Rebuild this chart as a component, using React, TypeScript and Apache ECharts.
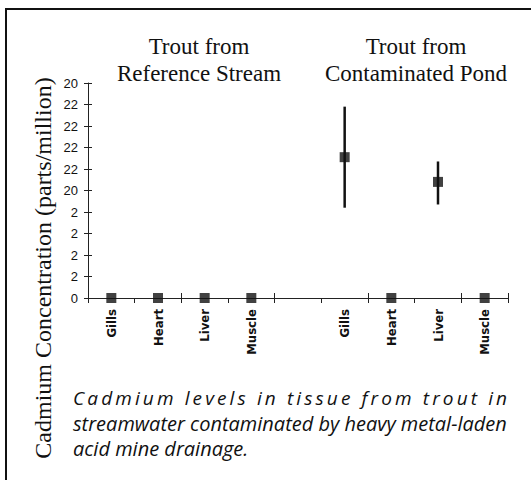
import React, { useEffect, useRef } from "react";
import * as echarts from "echarts";

const categories = ["Gills", "Heart", "Liver", "Muscle", "", "Gills", "Heart", "Liver", "Muscle"];
const meanValues: (number | null)[] = [0, 0, 0, 0, null, 13.1, 0, 10.8, 0];
const lowValues: (number | null)[] = [null, null, null, null, null, 8.4, null, 8.7, null];
const highValues: (number | null)[] = [null, null, null, null, null, 17.8, null, 12.7, null];
const yTickLabels = ["0", "2", "2", "2", "2", "20", "22", "22", "22", "22", "20"];
const groupTitles = [
  ["Trout from", "Reference Stream"],
  ["Trout from", "Contaminated Pond"],
];
const yAxisTitle = "Cadmium Concentration (parts/million)";
const captionLine1Words = ["Cadmium", "levels", "in", "tissue", "from", "trout", "in"];
const captionLine2 = "streamwater contaminated by heavy metal-laden";
const captionLine3 = "acid mine drainage.";

const serif = "'Liberation Serif', 'Times New Roman', serif";
const captionFont = "'Open Sans', 'DejaVu Sans', sans-serif";

export default function App() {
  const ref = useRef<HTMLDivElement>(null);
  useEffect(() => {
    document.body.style.margin = "0";
    if (!ref.current) return;
    const chart = echarts.init(ref.current, null, { renderer: "svg" });
    const errData = categories
      .map((_, i) => [i, lowValues[i], highValues[i]])
      .filter((d) => d[1] != null);
    const graphics: any[] = [
      {
        type: "rect",
        shape: { x: 6, y: 9, width: 540, height: 490 },
        style: { fill: "none", stroke: "#111", lineWidth: 2 },
        silent: true,
      },
      {
        type: "text",
        x: 43,
        y: 268,
        rotation: Math.PI / 2,
        style: {
          text: yAxisTitle,
          font: `24px ${serif}`,
          fill: "#111",
          align: "center",
          verticalAlign: "middle",
        },
      },
    ];
    const titleCenters = [199, 416];
    groupTitles.forEach((lines, gi) => {
      lines.forEach((t, li) => {
        graphics.push({
          type: "text",
          x: titleCenters[gi],
          y: 46 + li * 27,
          style: {
            text: t,
            font: `23px ${serif}`,
            fill: "#111",
            align: "center",
            verticalAlign: "middle",
          },
        });
      });
    });
    // caption line 1 is letter-spaced to the full caption width
    const capLeft = 73;
    const capRight = 507;
    const line1Font = `italic 19px ${captionFont}`;
    const canvas = document.createElement("canvas");
    const ctx = canvas.getContext("2d");
    if (ctx) ctx.font = line1Font;
    const measure = (s: string) => (ctx ? ctx.measureText(s).width : s.length * 9);
    const spaceW = measure(" ");
    const charW = captionLine1Words.map((w) => w.split("").map((c) => measure(c)));
    const natural =
      charW.reduce((a, ws) => a + ws.reduce((p, q) => p + q, 0), 0) +
      spaceW * (captionLine1Words.length - 1);
    const nGaps =
      captionLine1Words.reduce((a, w) => a + w.length, 0) + (captionLine1Words.length - 1) - 1;
    const extra = (capRight - capLeft - natural) / nGaps;
    let cx = capLeft;
    captionLine1Words.forEach((w, wi) => {
      w.split("").forEach((c, k) => {
        graphics.push({
          type: "text",
          x: cx,
          y: 388,
          style: {
            text: c,
            font: line1Font,
            fill: "#111",
            align: "left",
            verticalAlign: "alphabetic",
          },
        });
        cx += charW[wi][k] + extra;
      });
      cx += spaceW + extra;
    });
    [captionLine2, captionLine3].forEach((t, i) => {
      graphics.push({
        type: "text",
        x: capLeft,
        y: 413 + i * 25,
        style: {
          text: t,
          font: `italic 20px ${captionFont}`,
          fill: "#111",
          align: "left",
          verticalAlign: "alphabetic",
        },
      });
    });

    chart.setOption({
      animation: false,
      backgroundColor: "#fff",
      grid: { left: 88, right: 23, top: 83, bottom: 182, containLabel: false },
      xAxis: [
        {
          type: "category",
          data: categories,
          boundaryGap: true,
          axisLine: { show: true, lineStyle: { color: "#222", width: 1 } },
          axisTick: { show: true, length: 5, lineStyle: { color: "#222" } },
          axisLabel: {
            rotate: 90,
            interval: 0,
            margin: 11,
            color: "#111",
            fontSize: 13,
            fontWeight: "bold",
            fontFamily: "'Liberation Sans Narrow', 'DejaVu Sans Condensed', sans-serif",
          },
        },
        {
          type: "category",
          data: categories,
          position: "bottom",
          boundaryGap: true,
          axisLine: { show: false },
          axisTick: { show: true, inside: true, length: 5, lineStyle: { color: "#222" } },
          axisLabel: { show: false },
        },
      ],
      yAxis: [
        {
          type: "value",
          min: 0,
          max: 20,
          interval: 2,
          axisLine: { show: true, lineStyle: { color: "#222", width: 1 } },
          axisTick: { show: true, length: 4, lineStyle: { color: "#222" } },
          splitLine: { show: false },
          axisLabel: {
            margin: 10,
            color: "#111",
            fontSize: 13,
            fontFamily: "'Liberation Sans', sans-serif",
            formatter: (v: number) => yTickLabels[Math.round(v / 2)] ?? "",
          },
        },
        {
          type: "value",
          min: 0,
          max: 20,
          interval: 2,
          position: "left",
          axisLine: { show: false },
          axisTick: { show: true, inside: true, length: 4, lineStyle: { color: "#222" } },
          splitLine: { show: false },
          axisLabel: { show: false },
        },
      ],
      series: [
        {
          type: "custom",
          xAxisIndex: 0,
          yAxisIndex: 0,
          data: errData,
          renderItem: (params: any, api: any) => {
            const i = api.value(0);
            const p1 = api.coord([i, api.value(1)]);
            const p2 = api.coord([i, api.value(2)]);
            return {
              type: "line",
              shape: { x1: p1[0], y1: p1[1], x2: p2[0], y2: p2[1] },
              style: { stroke: "#111", lineWidth: 2.5 },
            };
          },
          z: 2,
        },
        {
          type: "scatter",
          xAxisIndex: 0,
          yAxisIndex: 0,
          data: meanValues,
          symbol: "rect",
          symbolSize: [10, 10],
          itemStyle: { color: "#111" },
          z: 3,
        },
      ],
      graphic: graphics,
    });
    return () => chart.dispose();
  }, []);
  return <div ref={ref} style={{ width: 531, height: 480 }} />;
}
